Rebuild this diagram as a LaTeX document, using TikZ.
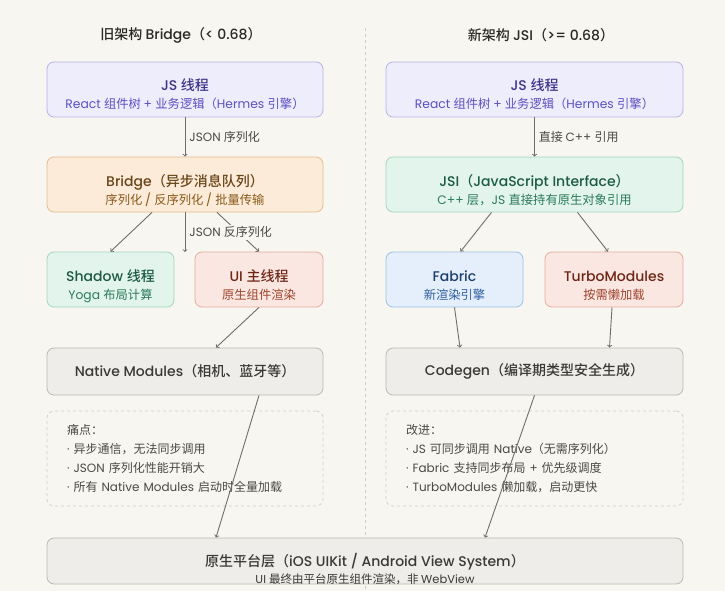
\documentclass[tikz,border=0pt]{standalone}
\usepackage{fontspec}
\setmainfont{Poppins}[BoldFont={Poppins Medium}]
\newfontfamily\latfam{Poppins}[BoldFont={Poppins Medium}]
\newfontfamily\cjkfam{Noto Sans CJK SC}[BoldFont={Noto Sans CJK SC Medium}]
\usepackage{tikz}

% switch to the CJK face for CJK characters
\XeTeXinterchartokenstate=1
\newXeTeXintercharclass\cjkcls
\count255="3000
\loop\XeTeXcharclass\count255=\cjkcls\ifnum\count255<"303F\advance\count255 1\repeat
\count255="4E00
\loop\XeTeXcharclass\count255=\cjkcls\ifnum\count255<"9FFF\advance\count255 1\repeat
\count255="FF00
\loop\XeTeXcharclass\count255=\cjkcls\ifnum\count255<"FFEF\advance\count255 1\repeat
\XeTeXinterchartoks 0 \cjkcls = {\cjkfam}
\XeTeXinterchartoks 4095 \cjkcls = {\cjkfam}
\XeTeXinterchartoks \cjkcls 0 = {\latfam}
\XeTeXinterchartoks 4095 0 = {\latfam}

\definecolor{bgc}{HTML}{F8F6F1}
\definecolor{linec}{HTML}{6F6E6A}
\definecolor{labc}{HTML}{4A4946}
\definecolor{headc}{HTML}{2A2926}
\definecolor{purpF}{HTML}{EEEDFC}
\definecolor{purpD}{HTML}{B6B1E7}
\definecolor{purpT}{HTML}{3B3489}
\definecolor{purpS}{HTML}{5A50C2}
\definecolor{orgF}{HTML}{FBEBD8}
\definecolor{orgD}{HTML}{E4BD8E}
\definecolor{orgT}{HTML}{6A4518}
\definecolor{orgS}{HTML}{8A5A1B}
\definecolor{grnF}{HTML}{E2F4EC}
\definecolor{grnD}{HTML}{A3D6BD}
\definecolor{grnT}{HTML}{1C5A43}
\definecolor{grnS}{HTML}{2A7A5B}
\definecolor{pnkF}{HTML}{FBE7E1}
\definecolor{pnkD}{HTML}{E6AB9C}
\definecolor{pnkT}{HTML}{6E2616}
\definecolor{pnkS}{HTML}{9E442E}
\definecolor{bluF}{HTML}{E5EFFB}
\definecolor{bluD}{HTML}{9DBFE6}
\definecolor{bluT}{HTML}{1E3F6E}
\definecolor{bluS}{HTML}{2E5E9E}
\definecolor{gryF}{HTML}{EEEDE9}
\definecolor{gryD}{HTML}{BBB9B3}
\definecolor{gryT}{HTML}{3A3936}
\definecolor{dashc}{HTML}{CFCDC7}

\begin{document}
\begin{tikzpicture}[x=1pt,y=-1pt,
    box/.style={draw, rounded corners=7pt, line width=0.8pt, align=center,
      inner sep=0pt, font=\fontsize{12.3}{18}\selectfont},
    twoline/.style={box, minimum height=55pt, text height=41pt, text depth=2pt},
    arr/.style={->, draw=linec, line width=0.9pt},
    lab/.style={anchor=west, text=labc, fill=bgc, inner sep=2pt, font=\fontsize{12}{14}\selectfont},
    head/.style={text=headc, font=\fontsize{14}{16}\selectfont\bfseries},
    note/.style={draw=dashc, dashed, rounded corners=7pt, line width=0.7pt,
      minimum width=276pt, minimum height=95pt, text width=236pt, align=left,
      text=labc, font=\fontsize{12}{19}\selectfont}]

    % Background and divider
    \useasboundingbox[fill=bgc] (0,0) rectangle (725,591);
    \draw[dashc, dashed, line width=0.7pt] (365,28) -- (365,591);

    % Column headings
    \node[head] (hold) at (181,35) {旧架构 Bridge（< 0.68）};
    \node[head] (hnew) at (541,35) {新架构 JSI（>= 0.68）};

    % Old architecture
    \node[twoline, fill=purpF, draw=purpD, minimum width=276pt] (jsold) at (185,89.5)
      {\textcolor{purpT}{\fontsize{14}{18}\selectfont\bfseries JS 线程}\\\textcolor{purpS}{React 组件树 + 业务逻辑（Hermes 引擎）}};
    \node[twoline, fill=orgF, draw=orgD, minimum width=276pt] (bridge) at (185,184.5)
      {\textcolor{orgT}{\fontsize{14}{18}\selectfont\bfseries Bridge（异步消息队列）}\\\textcolor{orgS}{序列化 / 反序列化 / 批量传输}};
    \node[twoline, fill=grnF, draw=grnD, minimum width=127pt] (shadow) at (110.5,279.5)
      {\textcolor{grnT}{\fontsize{14}{18}\selectfont\bfseries Shadow 线程}\\\textcolor{grnS}{Yoga 布局计算}};
    \node[twoline, fill=pnkF, draw=pnkD, minimum width=128pt] (uimain) at (259,279.5)
      {\textcolor{pnkT}{\fontsize{14}{18}\selectfont\bfseries UI 主线程}\\\textcolor{pnkS}{原生组件渲染}};
    \node[box, fill=gryF, draw=gryD, minimum width=276pt, minimum height=47pt] (natmod) at (185,371.5)
      {\textcolor{gryT}{\fontsize{14}{18}\selectfont\bfseries Native Modules（相机、蓝牙等）}};
    \node[note] (pain) at (185,458.5)
      {痛点：\\· 异步通信，无法同步调用\\· JSON 序列化性能开销大\\· 所有 Native Modules 启动时全量加载};
    \coordinate (gap) at (185,252);

    % New architecture
    \node[twoline, fill=purpF, draw=purpD, minimum width=297pt] (jsnew) at (534.5,89.5)
      {\textcolor{purpT}{\fontsize{14}{18}\selectfont\bfseries JS 线程}\\\textcolor{purpS}{React 组件树 + 业务逻辑（Hermes 引擎）}};
    \node[twoline, fill=grnF, draw=grnD, minimum width=297pt] (jsi) at (534.5,184.5)
      {\textcolor{grnT}{\fontsize{14}{18}\selectfont\bfseries JSI（JavaScript Interface）}\\\textcolor{grnS}{C++ 层，JS 直接持有原生对象引用}};
    \node[twoline, fill=bluF, draw=bluD, minimum width=137pt] (fabric) at (454.5,279.5)
      {\textcolor{bluT}{\fontsize{14}{18}\selectfont\bfseries Fabric}\\\textcolor{bluS}{新渲染引擎}};
    \node[twoline, fill=pnkF, draw=pnkD, minimum width=138pt] (turbo) at (614,279.5)
      {\textcolor{pnkT}{\fontsize{14}{18}\selectfont\bfseries TurboModules}\\\textcolor{pnkS}{按需懒加载}};
    \node[box, fill=gryF, draw=gryD, minimum width=297pt, minimum height=47pt] (codegen) at (534.5,371.5)
      {\textcolor{gryT}{\fontsize{14}{18}\selectfont\bfseries Codegen（编译期类型安全生成）}};
    \node[note, minimum width=297pt, text width=257pt] (gain) at (534.5,458.5)
      {改进：\\· JS 可同步调用 Native（无需序列化）\\· Fabric 支持同步布局 + 优先级调度\\· TurboModules 懒加载，启动更快};

    % Shared platform layer
    \node[box, fill=gryF, draw=gryD, minimum width=636pt, minimum height=46pt] (platform) at (365,561) {};
    \node[align=center, text=gryT, font=\fontsize{11.5}{17}\selectfont] (plattext) at (365,569)
      {{\fontsize{14}{17}\selectfont\bfseries 原生平台层（iOS UIKit / Android View System）}\\UI 最终由平台原生组件渲染，非 WebView};

    % Connectors, old side
    \draw[arr] (jsold) -- (bridge) node[lab, midway, xshift=2pt] {JSON 序列化};
    \draw[arr] ([xshift=-33pt]bridge.south) -- (shadow.north);
    \draw[arr] ([xshift=32pt]bridge.south) -- (uimain.north);
    \draw[arr] (bridge.south) -- (gap) node[lab, midway, xshift=2pt] {JSON 反序列化};
    \draw[arr] (uimain.south) -- ([xshift=31pt]natmod.north);
    \draw[arr] ([xshift=74pt]natmod.south) -- ([xshift=-149pt]platform.north);

    % Connectors, new side
    \draw[arr] (jsnew) -- (jsi) node[lab, midway, xshift=2pt] {直接 C++ 引用};
    \draw[arr] ([xshift=-43pt]jsi.south) -- ([xshift=6pt]fabric.north);
    \draw[arr] ([xshift=43pt]jsi.south) -- ([xshift=-6pt]turbo.north);
    \draw[arr] (fabric.south) -- ([xshift=-74.5pt]codegen.north);
    \draw[arr] ([xshift=-2pt]turbo.south) -- ([xshift=75pt]codegen.north);
    \draw[arr] (codegen.south) -- ([xshift=120pt]platform.north);
\end{tikzpicture}
\end{document}
